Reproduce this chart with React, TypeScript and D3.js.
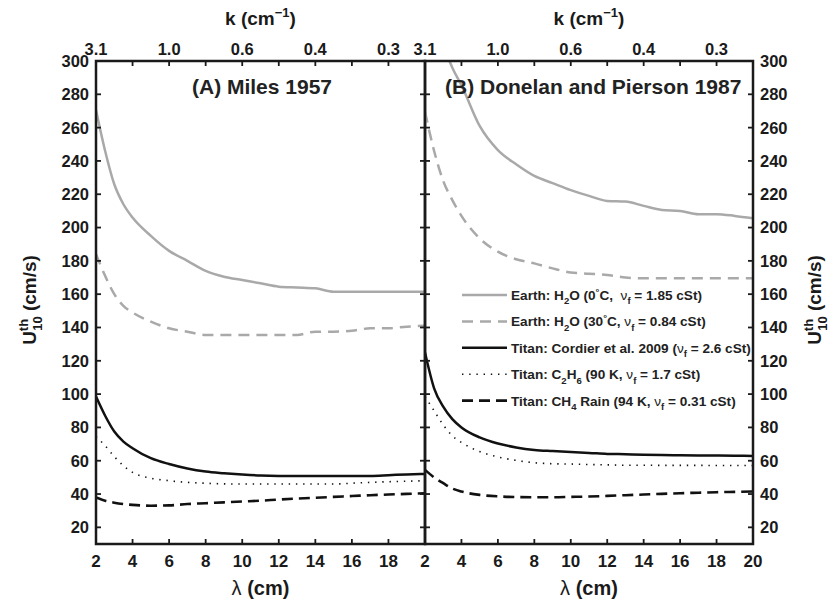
import * as d3 from "d3";

// wavelength grid (cm)
const lambda = [2, 2.5, 3, 3.5, 4, 5, 6, 7, 8, 9, 10, 11, 12, 13, 14, 15, 16, 17, 18, 19, 20];

// (A) Miles 1957, U10 threshold (cm/s)
const milesH2O0 = [270.6, 246, 226, 214, 206, 195, 186, 180, 174, 170.5, 168.5, 166.5, 164.5, 164, 163.5, 161.5, 161.5, 161.5, 161.5, 161.5, 161.5];
const milesH2O30 = [184, 171, 160, 153, 149, 143.5, 139.5, 137.5, 135.5, 135.5, 135.5, 135.5, 135.5, 135.5, 137.5, 137.5, 138, 139.5, 139.5, 140.5, 141];
const milesCordier = [98.5, 87, 77.5, 71.5, 67.5, 61.5, 58, 55.3, 53.5, 52.5, 51.7, 51.1, 50.9, 50.9, 50.9, 50.9, 50.9, 50.9, 51.3, 51.8, 52.1];
const milesC2H6 = [74.5, 69, 62.5, 57, 53, 49.5, 48, 47, 46.5, 46.1, 46, 46, 46, 46, 46, 46, 46.5, 47, 47.4, 47.7, 48];
const milesCH4 = [38, 36, 34.8, 34, 33.5, 33, 33.2, 34, 34.5, 35, 35.5, 36, 36.7, 37.3, 37.8, 38.3, 38.8, 39.3, 39.7, 40.1, 40.5];

// (B) Donelan and Pierson 1987
const dpH2O0 = [355, 330, 310, 296, 285.5, 261, 246.5, 238, 231, 226.7, 222.5, 219, 216, 215.6, 213, 210.6, 210, 208, 208, 207, 205.6];
const dpH2O30 = [269.5, 246, 228, 216.5, 207, 193.5, 185.5, 181, 178.5, 175.5, 173, 172.3, 171.5, 170, 169.5, 169.5, 169.5, 169.5, 169.5, 169.5, 169.5];
const dpCordier = [125, 103.5, 92.5, 85, 80, 74, 70.3, 68, 66.5, 65.8, 65.2, 64.7, 64.1, 63.9, 63.6, 63.4, 63.3, 63.2, 63.1, 63, 62.9];
const dpC2H6 = [98.5, 90, 81.5, 75, 71, 65.5, 62.3, 60.2, 58.8, 58.2, 58, 57.7, 57.5, 57.3, 57.3, 57.2, 57.2, 57.2, 57.1, 57.1, 57.1];
const dpCH4 = [54.5, 50, 46.5, 43.3, 41.5, 39.5, 38.6, 38.2, 38.1, 38.1, 38.3, 38.5, 38.9, 39.3, 39.7, 40.1, 40.5, 40.8, 41.1, 41.3, 41.5];

const yTicks = [20, 40, 60, 80, 100, 120, 140, 160, 180, 200, 220, 240, 260, 280, 300];
const xTicks = [2, 4, 6, 8, 10, 12, 14, 16, 18, 20];
const kTickLambda = [2, 6, 10, 14, 18];
const kTickLabels = ["3.1", "1.0", "0.6", "0.4", "0.3"];

type Seg = { t: string; s?: "sub" | "sup"; w?: string };
const legendItems: Seg[][] = [
  [{ t: "Earth: H" }, { t: "2", s: "sub" }, { t: "O (0" }, { t: "°", s: "sup" }, { t: "C,  " }, { t: "ν", w: "normal" }, { t: "f", s: "sub" }, { t: " = 1.85 cSt)" }],
  [{ t: "Earth: H" }, { t: "2", s: "sub" }, { t: "O (30" }, { t: "°", s: "sup" }, { t: "C, " }, { t: "ν", w: "normal" }, { t: "f", s: "sub" }, { t: " = 0.84 cSt)" }],
  [{ t: "Titan: Cordier et al. 2009 (" }, { t: "ν", w: "normal" }, { t: "f", s: "sub" }, { t: " = 2.6 cSt)" }],
  [{ t: "Titan: C" }, { t: "2", s: "sub" }, { t: "H" }, { t: "6", s: "sub" }, { t: " (90 K, " }, { t: "ν", w: "normal" }, { t: "f", s: "sub" }, { t: " = 1.7 cSt)" }],
  [{ t: "Titan: CH" }, { t: "4", s: "sub" }, { t: " Rain (94 K, " }, { t: "ν", w: "normal" }, { t: "f", s: "sub" }, { t: " = 0.31 cSt)" }],
];

const GRAY = "#a9a9a9";
const styles = [
  { stroke: GRAY, width: 2.5, dash: "none" },
  { stroke: GRAY, width: 2.5, dash: "11,7" },
  { stroke: "#111", width: 2.5, dash: "none" },
  { stroke: "#111", width: 1.6, dash: "1.4,5.8" },
  { stroke: "#111", width: 2.6, dash: "11,6" },
];

const FONT = "'Liberation Sans', Arial, Helvetica, sans-serif";
const top = 61;
const bottom = 544;
const INK = "#1a1a1a";

const y = d3.scaleLinear().domain([10, 300]).range([bottom, top]);

const panels = [
  { id: "A", x0: 96, x1: 425, title: "(A) Miles 1957", tx: 262, anchor: "middle", series: [milesH2O0, milesH2O30, milesCordier, milesC2H6, milesCH4], side: "left", bottomTicks: xTicks.slice(0, -1) },
  { id: "B", x0: 425, x1: 753, title: "(B) Donelan and Pierson 1987", tx: 445, anchor: "start", series: [dpH2O0, dpH2O30, dpCordier, dpC2H6, dpCH4], side: "right", bottomTicks: xTicks },
];

function Rich({ segs, fs }: { segs: Seg[]; fs: number }) {
  let cur = 0;
  return (
    <>
      {segs.map((g, i) => {
        const want = g.s === "sub" ? fs * 0.32 : g.s === "sup" ? -fs * 0.38 : 0;
        const dy = want - cur;
        cur = want;
        return (
          <tspan key={i} dy={dy} fontSize={g.s ? fs * 0.7 : fs} fontWeight={g.w || "bold"}>
            {g.t}
          </tspan>
        );
      })}
    </>
  );
}

function ULabel({ x, yc }: { x: number; yc: number }) {
  return (
    <text transform={`translate(${x},${yc}) rotate(-90)`} textAnchor="middle" fontSize={19} fontWeight="bold" fontFamily={FONT} fill={INK} style={{ whiteSpace: "pre" }}>
      <tspan>U</tspan>
      <tspan fontSize={13} dy={-8}>th</tspan>
      <tspan fontSize={13} dx={-12} dy={14}>10</tspan>
      <tspan dy={-6}> (cm/s)</tspan>
    </text>
  );
}

export default function App() {
  const tick = 5;
  return (
    <svg width={836} height={605} style={{ position: "absolute", left: 0, top: 0, background: "#fff" }} fontFamily={FONT} fill={INK}>
      <defs>
        {panels.map((p) => (
          <clipPath key={p.id} id={`clip${p.id}`}>
            <rect x={p.x0} y={top} width={p.x1 - p.x0} height={bottom - top} />
          </clipPath>
        ))}
      </defs>
      {panels.map((p) => {
        const x = d3.scaleLinear().domain([2, 20]).range([p.x0, p.x1]);
        const line = d3
          .line<number>()
          .x((_, i) => x(lambda[i]))
          .y((d) => y(d))
          .curve(d3.curveMonotoneX);
        return (
          <g key={p.id}>
            <g clipPath={`url(#clip${p.id})`}>
              {p.series.map((s, i) => (
                <path key={i} d={line(s) || ""} fill="none" stroke={styles[i].stroke} strokeWidth={styles[i].width} strokeDasharray={styles[i].dash} strokeLinejoin="round" />
              ))}
            </g>
            {/* frame */}
            <rect x={p.x0} y={top} width={p.x1 - p.x0} height={bottom - top} fill="none" stroke={INK} strokeWidth={2.5} />
            {/* x ticks top & bottom */}
            {xTicks.map((t) => (
              <g key={t}>
                <line x1={x(t)} x2={x(t)} y1={bottom} y2={bottom - tick} stroke={INK} strokeWidth={1.8} />
                <line x1={x(t)} x2={x(t)} y1={top} y2={top + tick} stroke={INK} strokeWidth={1.8} />
              </g>
            ))}
            {p.bottomTicks.map((t) => (
              <text key={t} x={x(t)} y={567} textAnchor="middle" fontSize={17} fontWeight="bold">
                {t}
              </text>
            ))}
            {kTickLambda.map((t, i) => (
              <text key={t} x={x(t)} y={55} textAnchor="middle" fontSize={16.5} fontWeight="bold">
                {kTickLabels[i]}
              </text>
            ))}
            {/* y ticks both sides */}
            {yTicks.map((t) => (
              <g key={t}>
                <line x1={p.x0} x2={p.x0 + tick} y1={y(t)} y2={y(t)} stroke={INK} strokeWidth={1.8} />
                <line x1={p.x1} x2={p.x1 - tick} y1={y(t)} y2={y(t)} stroke={INK} strokeWidth={1.8} />
              </g>
            ))}
            {yTicks.map((t) =>
              p.side === "left" ? (
                <text key={t} x={p.x0 - 7} y={y(t)} dy="0.36em" textAnchor="end" fontSize={16.5} fontWeight="bold">
                  {t}
                </text>
              ) : (
                <text key={t} x={p.x1 + 7} y={y(t)} dy="0.36em" textAnchor="start" fontSize={16.5} fontWeight="bold">
                  {t}
                </text>
              )
            )}
            <text x={p.tx} y={94} textAnchor={p.anchor} fontSize={21} fontWeight="bold" fill="#222">
              {p.title}
            </text>
            {/* axis titles */}
            <text x={(p.x0 + p.x1) / 2} y={25} textAnchor="middle" fontSize={19} fontWeight="bold" style={{ whiteSpace: "pre" }}>
              <tspan>k (cm</tspan>
              <tspan fontSize={13} dy={-8}>−1</tspan>
              <tspan dy={8}>)</tspan>
            </text>
            <text x={(p.x0 + p.x1) / 2} y={595} textAnchor="middle" fontSize={20} fontWeight="bold" style={{ whiteSpace: "pre" }}>
              <tspan fontWeight="normal">λ</tspan>
              <tspan> (cm)</tspan>
            </text>
          </g>
        );
      })}
      <ULabel x={36} yc={300} />
      <ULabel x={821} yc={300} />
      {/* legend */}
      <g>
        {legendItems.map((segs, i) => {
          const ly = 295 + i * 26.4;
          return (
            <g key={i}>
              <line x1={462} x2={507} y1={ly} y2={ly} stroke={styles[i].stroke} strokeWidth={styles[i].width} strokeDasharray={styles[i].dash} />
              <text x={511} y={ly + 5} fontSize={13.6} fontWeight="bold" fill="#222" style={{ whiteSpace: "pre" }}>
                <Rich segs={segs} fs={13.6} />
              </text>
            </g>
          );
        })}
      </g>
    </svg>
  );
}
